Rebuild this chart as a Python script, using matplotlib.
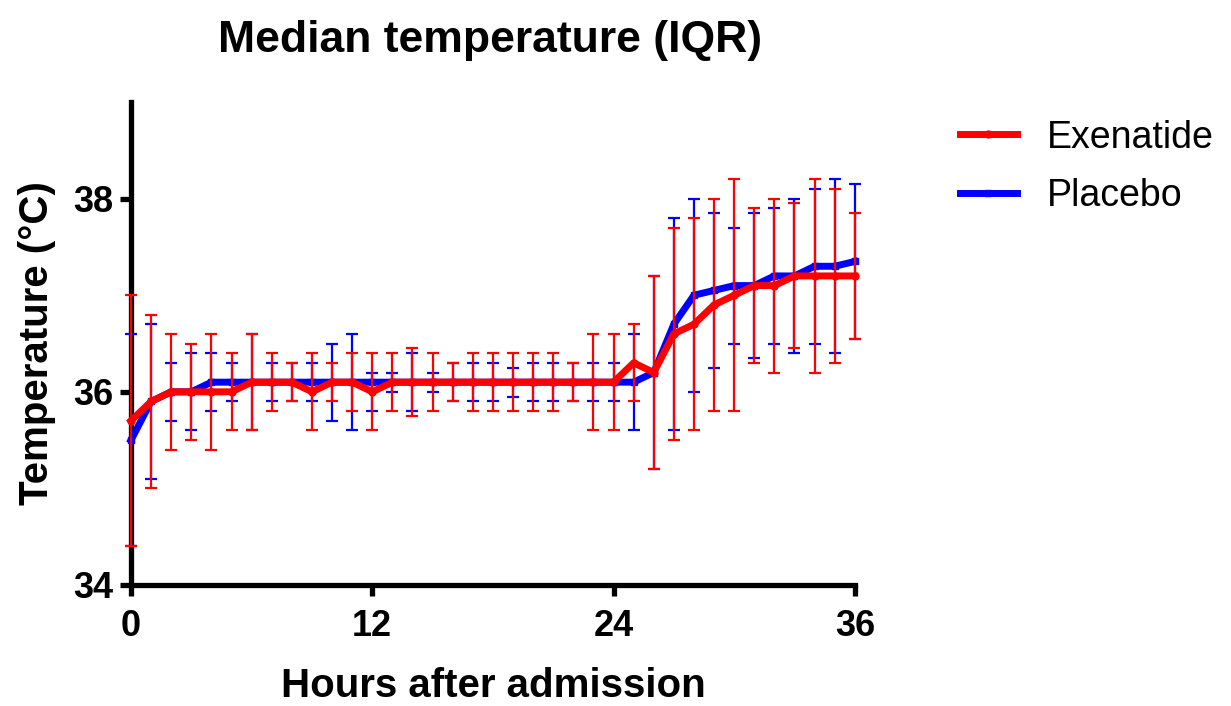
import numpy as np
import matplotlib
matplotlib.use("Agg")
import matplotlib.pyplot as plt

# ==============================
# DATA (median and IQR per hour)
# ==============================

hours = list(range(37))

exe_median = [35.7, 35.9, 36.0, 36.0, 36.0, 36.0, 36.1, 36.1, 36.1, 36.0,
              36.1, 36.1, 36.0, 36.1, 36.1, 36.1, 36.1, 36.1, 36.1, 36.1,
              36.1, 36.1, 36.1, 36.1, 36.1, 36.3, 36.2, 36.6, 36.7, 36.9,
              37.0, 37.1, 37.1, 37.2, 37.2, 37.2, 37.2]
exe_q1 = [34.4, 35.0, 35.4, 35.5, 35.4, 35.6, 35.6, 35.8, 35.9, 35.6,
          35.9, 35.8, 35.6, 35.8, 35.75, 35.8, 35.9, 35.8, 35.8, 35.8,
          35.8, 35.8, 35.9, 35.6, 35.6, 35.9, 35.2, 35.5, 35.6, 35.8,
          35.8, 36.3, 36.2, 36.45, 36.2, 36.3, 36.55]
exe_q3 = [37.0, 36.8, 36.6, 36.5, 36.6, 36.4, 36.6, 36.4, 36.3, 36.4,
          36.3, 36.4, 36.4, 36.4, 36.45, 36.4, 36.3, 36.4, 36.4, 36.4,
          36.4, 36.4, 36.3, 36.6, 36.6, 36.7, 37.2, 37.7, 37.8, 38.0,
          38.2, 37.9, 38.0, 37.95, 38.2, 38.1, 37.85]

pla_median = [35.5, 35.9, 36.0, 36.0, 36.1, 36.1, 36.1, 36.1, 36.1, 36.1,
              36.1, 36.1, 36.1, 36.1, 36.1, 36.1, 36.1, 36.1, 36.1, 36.1,
              36.1, 36.1, 36.1, 36.1, 36.1, 36.1, 36.2, 36.7, 37.0, 37.05,
              37.1, 37.1, 37.2, 37.2, 37.3, 37.3, 37.35]
pla_q1 = [34.4, 35.1, 35.7, 35.6, 35.8, 35.9, 35.6, 35.9, 35.9, 35.9,
          35.7, 35.6, 35.8, 36.0, 35.8, 36.0, 35.9, 35.9, 35.9, 35.95,
          35.9, 35.9, 35.9, 35.9, 35.9, 35.6, 35.2, 35.6, 36.0, 36.25,
          36.5, 36.35, 36.5, 36.4, 36.5, 36.4, 36.55]
pla_q3 = [36.6, 36.7, 36.3, 36.4, 36.4, 36.3, 36.6, 36.3, 36.3, 36.3,
          36.5, 36.6, 36.2, 36.2, 36.4, 36.2, 36.3, 36.3, 36.3, 36.25,
          36.3, 36.3, 36.3, 36.3, 36.3, 36.6, 37.2, 37.8, 38.0, 37.85,
          37.7, 37.85, 37.9, 38.0, 38.1, 38.2, 38.15]

x_ticks = [0, 12, 24, 36]
y_ticks = [34, 36, 38]

RED = "#ff0000"
BLUE = "#0000ff"

plt.rcParams["font.family"] = ["Liberation Sans", "DejaVu Sans"]


def draw_series(ax, med, q1, q3, color, marker, label, z):
    med = np.array(med)
    err = [med - np.array(q1), np.array(q3) - med]
    ax.errorbar(hours, med, yerr=err, fmt="none", ecolor=color,
                elinewidth=1.6, capsize=4.5, capthick=1.6,
                zorder=z, clip_on=False)
    ax.plot(hours, med, color=color, linewidth=5, marker=marker,
            markersize=5, label=label, zorder=z + 1, clip_on=False)


fig = plt.figure(figsize=(12.31, 7.06), dpi=100)
ax = fig.add_axes([0.1064, 0.1714, 0.588, 0.684])

draw_series(ax, pla_median, pla_q1, pla_q3, BLUE, "s", "Placebo", 3)
draw_series(ax, exe_median, exe_q1, exe_q3, RED, "o", "Exenatide", 5)

ax.set_xlim(0, 36)
ax.set_ylim(34, 39)
ax.set_xticks(x_ticks)
ax.set_yticks(y_ticks)

for side in ["top", "right"]:
    ax.spines[side].set_visible(False)
for side in ["left", "bottom"]:
    ax.spines[side].set_linewidth(3.8)
    ax.spines[side].set_zorder(1)

ax.tick_params(axis="both", width=3.8, length=8, labelsize=26)
ax.tick_params(axis="x", pad=9)
ax.tick_params(axis="y", pad=5)
for lbl in ax.get_xticklabels() + ax.get_yticklabels():
    lbl.set_fontweight("bold")

ax.set_xlabel("Hours after admission", fontsize=29, fontweight="bold", labelpad=17)
ax.set_ylabel("Temperature (°C)", fontsize=29, fontweight="bold", labelpad=12)
fig.text(0.398, 0.943, "Median temperature (IQR)", fontsize=32,
         fontweight="bold", ha="center", va="center")

handles, labels = ax.get_legend_handles_labels()
ax.legend(handles[::-1], labels[::-1], loc="upper left",
          bbox_to_anchor=(1.125, 0.995), borderaxespad=0, frameon=False,
          fontsize=27, handlelength=1.5, handletextpad=0.8, labelspacing=0.6)

fig.savefig("out.png", dpi=100)
